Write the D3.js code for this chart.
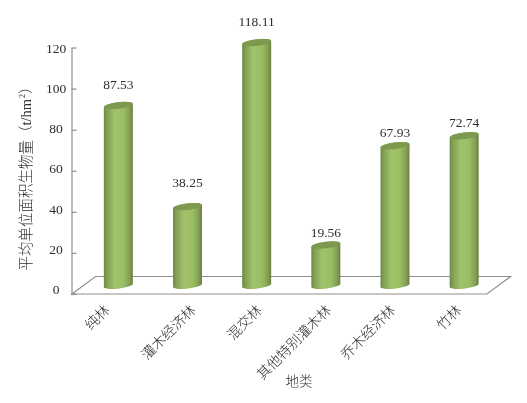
<!DOCTYPE html>
<html><head><meta charset="utf-8">
<script src="https://cdnjs.cloudflare.com/ajax/libs/d3/7.8.5/d3.min.js"></script>
<style>html,body{margin:0;padding:0;background:#fff}svg{display:block}
text{fill:#2e2e2e;font-family:"Liberation Serif","Noto Sans CJK SC",serif}
.cjk{font-family:"Noto Sans CJK SC",sans-serif;font-weight:300}</style>
</head><body><svg id="c" width="527" height="403"></svg>
<script>
const categories = ["纯林","灌木经济林","混交林","其他特别灌木林","乔木经济林","竹林"];
const values = [87.53,38.25,118.11,19.56,67.93,72.74];
const tickValues = [0,20,40,60,80,100,120];
const yTitle = "平均单位面积生物量（";
const yUnit = "t/hm";
const xTitle = "地类";

const svg = d3.select("#c");
const y = d3.scaleLinear().domain([0,120]).range([294,47.5]);
const yLabel = d3.scaleLinear().domain([0,120]).range([289,47.5]);
const x = d3.scaleBand().domain(categories).range([72,487]).paddingInner(0);
const depthX = 23.5, depthY = 17.5;
const rx = 14.5, ry = 3.3, tilt = -7;
const dyTilt = 1.6;
const labelLift = [16,20,17,8.5,9,9];
const catEnd = [4,21,18,18,13,10];

const defs = svg.append("defs");
const g = defs.append("linearGradient").attr("id","cyl");
[[0,"#6f8848"],[0.12,"#84a155"],[0.38,"#a0c36a"],[0.68,"#9abd64"],[0.88,"#84a053"],[1,"#697f42"]]
 .forEach(s=>g.append("stop").attr("offset",s[0]).attr("stop-color",s[1]));
defs.append("filter").attr("id","soft").append("feGaussianBlur").attr("stdDeviation",0.35);

const root = svg.append("g").attr("filter","url(#soft)");
const axisCol = "#8f8f8f";

// floor
const fl = x.range()[0], fr = x.range()[1], fy = y(0);
root.append("path")
  .attr("d",`M${fl},${fy}L${fl+depthX},${fy-depthY}L${fr+depthX},${fy-depthY}L${fr},${fy}Z`)
  .attr("fill","#fff").attr("stroke",axisCol).attr("stroke-width",1.2);

// y axis
const ax = root.append("g").attr("transform",`translate(${fl-0.5},0)`)
  .call(d3.axisLeft(y).tickValues(tickValues).tickSize(-5).tickSizeOuter(0).tickPadding(0));
ax.selectAll("path,line").attr("stroke",axisCol).attr("stroke-width",1.2);
ax.selectAll("text").attr("x",-15.5).attr("text-anchor","middle").attr("dy",null)
  .attr("y",d=>yLabel(d)-y(d)+4.5)
  .style("font-size","13.5px").style("font-family","Liberation Serif").style("fill","#2e2e2e");

// cylinders
const cx = c => x(c)+x.bandwidth()/2+depthX/2;
const bars = root.selectAll("g.bar").data(categories).join("g").attr("class","bar");
bars.append("path").attr("fill","url(#cyl)").attr("d",(c,i)=>{
  const t = y(values[i])-depthY/2, b = y(0)-depthY/2, l = cx(c)-rx, r = cx(c)+rx;
  return `M${l},${t+dyTilt}L${l},${b+dyTilt}A${rx},${ry} ${tilt} 0 0 ${r},${b-dyTilt}L${r},${t-dyTilt}A${rx},${ry} ${tilt} 0 0 ${l},${t+dyTilt}Z`;
});
bars.append("ellipse").attr("fill","#7d9950")
  .attr("rx",rx).attr("ry",ry)
  .attr("transform",(c,i)=>`translate(${cx(c)},${y(values[i])-depthY/2}) rotate(${tilt})`);

// value labels
root.selectAll("text.val").data(values).join("text").attr("class","val")
  .attr("x",(v,i)=>cx(categories[i])).attr("y",(v,i)=>y(v)-depthY/2-labelLift[i])
  .attr("text-anchor","middle").style("font-size","13.5px").text(v=>d3.format(".2f")(v));

// category labels
root.selectAll("text.cat").data(categories).join("text").attr("class","cat cjk")
  .attr("text-anchor","end").style("font-size","14px")
  .attr("transform",(c,i)=>`translate(${x(c)+x.bandwidth()/2+catEnd[i]},${y(0)+17}) rotate(-45)`)
  .text(c=>c);

// titles
root.append("text").attr("class","cjk").attr("text-anchor","middle").style("font-size","13.5px")
  .attr("x",299).attr("y",386).text(xTitle);
const yt = root.append("text").attr("transform","translate(31,175) rotate(-90)")
  .attr("text-anchor","middle").style("font-size","14.5px");
yt.append("tspan").attr("class","cjk").text(yTitle);
yt.append("tspan").text(yUnit);
yt.append("tspan").attr("dy",-6).attr("dx",1).style("font-size","8px").text("2");
yt.append("tspan").attr("class","cjk").attr("dy",6).text("）");
</script></body></html>
